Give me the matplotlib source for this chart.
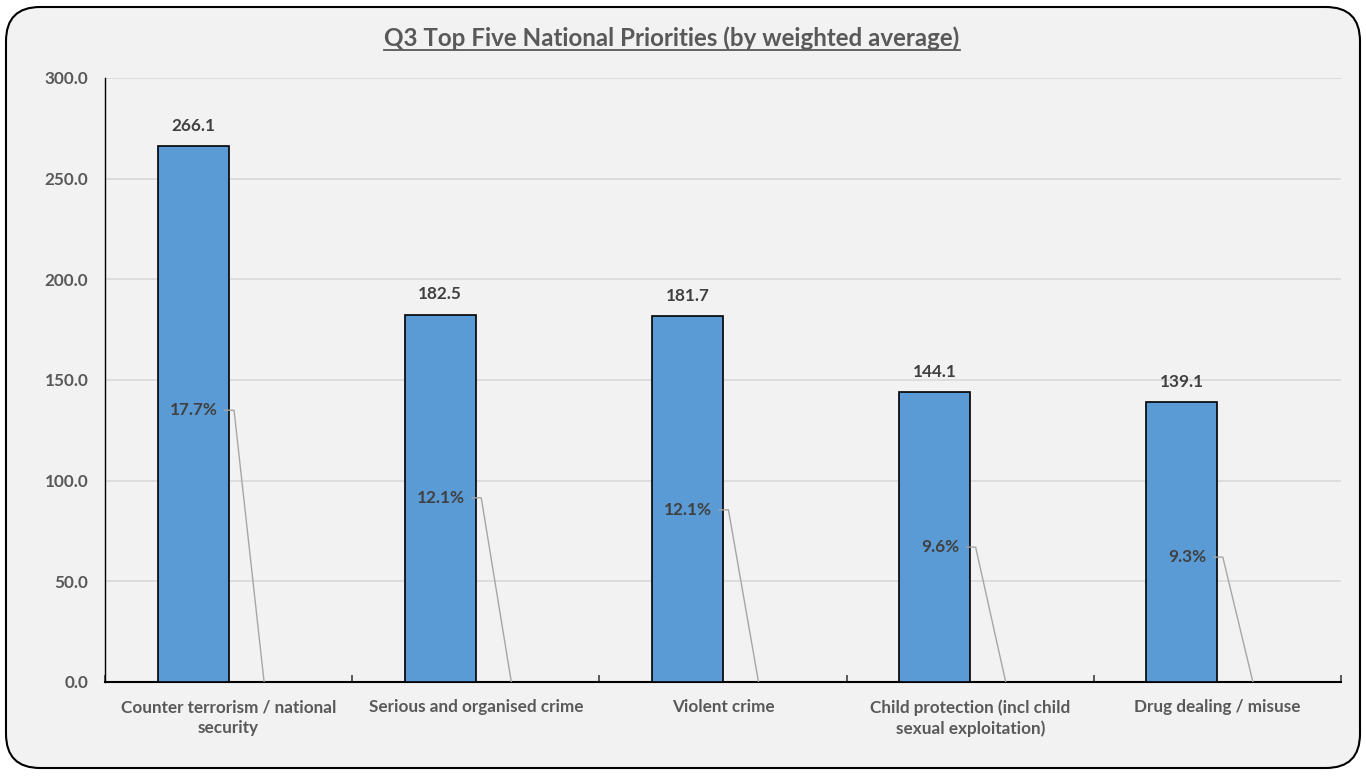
import matplotlib.pyplot as plt
from matplotlib.patches import FancyBboxPatch
import numpy as np

# Data
categories = ["Counter terrorism / national\nsecurity", "Serious and organised crime",
              "Violent crime", "Child protection (incl child\nsexual exploitation)",
              "Drug dealing / misuse"]
weighted_avg = [266.1, 182.5, 181.7, 144.1, 139.1]
pct_share = [17.7, 12.1, 12.1, 9.6, 9.3]
# height where the Excel user dragged each % label
pct_label_y = [135.0, 91.5, 85.5, 67.0, 62.0]

txt_col = '#595959'
lab_col = '#404040'
font = 'Lato'
fs = 12.3

fig = plt.figure(figsize=(13.66, 7.76), dpi=100)
fig.patch.set_facecolor('white')

# rounded chart area
frame = FancyBboxPatch((6 / 1366, 8 / 776), 1354 / 1366, 761 / 776,
                       boxstyle="round,pad=0,rounding_size=0.025",
                       transform=fig.transFigure, facecolor='#F2F2F2',
                       edgecolor='black', linewidth=1.5, mutation_aspect=1366 / 776,
                       zorder=-10)
fig.patches.append(frame)

ax = fig.add_axes([105 / 1366, 1 - 682 / 776, 1236 / 1366, 604 / 776])
ax.set_facecolor('#F2F2F2')

x = np.arange(len(categories))
w = 0.287
ax.bar(x - w / 2, weighted_avg, w, color='#5B9BD5', edgecolor='black', linewidth=1.2, zorder=3)
# second series (percentages) plotted on same scale -> practically invisible
pct_vals = [p / 100 for p in pct_share]
ax.bar(x + w / 2, pct_vals, w, color='#ED7D31', linewidth=0, zorder=3)

for i, v in enumerate(weighted_avg):
    ax.text(x[i] - w / 2, v + 6, f"{v:.1f}", ha='center', va='bottom',
            fontsize=fs, fontweight='bold', color=lab_col, family=font)

for i, p in enumerate(pct_share):
    ly = pct_label_y[i]
    ax.text(x[i] - w / 2 + 0.1, ly, f"{p:.1f}%", ha='right', va='center',
            fontsize=fs, fontweight='bold', color=lab_col, family=font, zorder=4)
    ax.plot([x[i] - 0.015, x[i] + 0.022, x[i] + w / 2], [ly, ly, pct_vals[i]],
            color='#A6A6A6', linewidth=1, zorder=4)

ax.set_xlim(-0.5, len(categories) - 0.5)
ax.set_ylim(0, 300)
ax.set_yticks(np.arange(0, 301, 50))
ax.set_yticklabels([f"{t:.1f}" for t in np.arange(0, 301, 50)])
ax.yaxis.grid(True, color='#D9D9D9', linewidth=1.2, zorder=0)
ax.set_axisbelow(True)

ax.set_xticks(x)
ax.set_xticklabels(categories, linespacing=1.35)
ax.set_xticks(np.arange(-0.5, len(categories), 1), minor=True)
ax.tick_params(axis='x', which='major', length=0, pad=12.5)
ax.tick_params(axis='x', which='minor', length=5, direction='in', width=1.2, color='#404040')
ax.tick_params(axis='y', length=0, pad=12)
for lab in ax.get_xticklabels() + ax.get_yticklabels():
    lab.set_fontfamily(font)
    lab.set_fontweight('bold')
    lab.set_fontsize(fs)
    lab.set_color(txt_col)

for s in ['top', 'right']:
    ax.spines[s].set_visible(False)
ax.spines['left'].set_color('black')
ax.spines['left'].set_linewidth(1)
ax.spines['bottom'].set_color('black')
ax.spines['bottom'].set_linewidth(1.5)

title = fig.text(672 / 1366, 1 - 38 / 776, "Q3 Top Five National Priorities (by weighted average)",
                 ha='center', va='center', fontsize=17.4, fontweight='bold', color=txt_col,
                 family=font)
# underline title under its actual extent
fig.canvas.draw()
bb = title.get_window_extent().transformed(fig.transFigure.inverted())
fig.add_artist(plt.Line2D([bb.x0, bb.x1], [1 - 50 / 776, 1 - 50 / 776],
                          color=txt_col, linewidth=1.3, transform=fig.transFigure))

fig.savefig('out.png', dpi=100, facecolor='white')
